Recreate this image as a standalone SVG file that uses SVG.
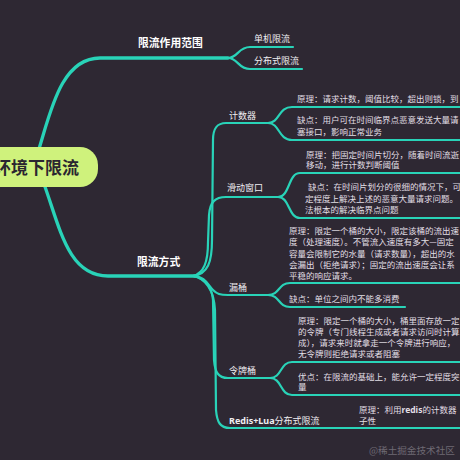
<svg xmlns="http://www.w3.org/2000/svg" width="460" height="460" viewBox="0 0 460 460">
<style>
.c{fill:none;stroke:#29d3b8;stroke-width:2.2;stroke-linecap:round}
.m{stroke-width:3.3}
.h{font-family:"Noto Sans CJK SC","Noto Sans",sans-serif;font-size:10.8px;font-weight:bold;fill:#ffffff}
.s{font-family:"Noto Sans CJK SC","Noto Sans",sans-serif;font-size:9px;fill:#f0eef2}
.l{font-family:"Noto Sans CJK SC","Noto Sans",sans-serif;font-size:8.5px;fill:#e2dfe5}
.b{font-family:"Noto Sans","Noto Sans CJK SC",sans-serif;font-weight:bold}
.w{font-family:"Noto Sans CJK SC","Noto Sans",sans-serif;font-size:9.6px;fill:#6f6a74}
</style>
<rect x="0" y="0" width="460" height="460" fill="#2e2833"/>
<g id="connectors">
<path class="c m" d="M38,152 C50,115 60,58 100,58 L228,58"/>
<path class="c m" d="M44,184 C60,228 68,276 108,276 L195,276"/>
<path class="c" d="M228,58 C238,58 238,47 250,47 L293,47"/>
<path class="c" d="M228,58 C238,58 238,69 250,69 L302,69"/>
<path class="c" d="M193,276 C208,274 212,262 212,240 L213,140 C213,128 217,123 226,123 L268,123"/>
<path class="c" d="M193,276 C204,273 208,262 208,242 L209,215 C210,202 215,197 226,197 L278,197"/>
<path class="c" d="M193,276 C205,276 208,285 213,290 C217,294 220,295 228,295 L268,295"/>
<path class="c" d="M193,276 C204,278 212,286 213,300 L214,360 C215,372 218,378 228,378 L270,378"/>
<path class="c" d="M193,276 C205,278 214,290 215,310 L216,410 C217,422 220,428 230,428 L462,428"/>
<path class="c" d="M268,123 C280,123 278,107 292,107 L462,107"/>
<path class="c" d="M268,123 C280,123 278,140 292,140 L462,140"/>
<path class="c" d="M278,197 C290,197 288,173 300,173 L462,173"/>
<path class="c" d="M278,197 C290,197 288,218 300,218 L462,218"/>
<path class="c" d="M268,295 C280,295 278,283 290,283 L462,283"/>
<path class="c" d="M268,295 C280,295 278,307 290,307 L405,307"/>
<path class="c" d="M270,378 C282,378 280,362 292,362 L462,362"/>
<path class="c" d="M270,378 C282,378 280,395 292,395 L462,395"/>
</g>
<g id="root">
<rect x="-20" y="147" width="118" height="40" rx="18" fill="#cff27c"/>
<text x="79" y="174" text-anchor="end" font-family="Noto Sans CJK SC,sans-serif" font-size="17" font-weight="bold" fill="#2b2630">环境下限流</text>
</g>
<g id="scope"><text class="h" x="138" y="47">限流作用范围</text></g>
<g id="single"><text class="s" x="254" y="41.5">单机限流</text></g>
<g id="distributed"><text class="s" x="254" y="63.5">分布式限流</text></g>
<g id="methods"><text class="h" x="137" y="266">限流方式</text></g>
<g id="counter"><text class="s" x="229" y="118.5">计数器</text></g>
<g id="counter-principle"><text class="l" x="297" y="102">原理：请求计数，阈值比较，超出则锁，到</text></g>
<g id="counter-flaw"><text class="l" x="297" y="123.4">缺点：用户可在时间临界点恶意发送大量请</text><text class="l" x="297" y="135">塞接口，影响正常业务</text></g>
<g id="window"><text class="s" x="227" y="190.5">滑动窗口</text></g>
<g id="window-principle"><text class="l" x="306" y="157.5">原理：把固定时间片切分，随着时间流逝</text><text class="l" x="306" y="168">移动，进行计数判断阈值</text></g>
<g id="window-flaw"><text class="l" x="308" y="190">缺点：在时间片划分的很细的情况下，可</text><text class="l" x="305" y="201.7">定程度上解决上述的恶意大量请求问题。</text><text class="l" x="305" y="212.5">法根本的解决临界点问题</text></g>
<g id="leaky"><text class="s" x="229" y="290.5">漏桶</text></g>
<g id="leaky-principle"><text class="l" x="289" y="233.5">原理：限定一个桶的大小，限定该桶的流出速</text><text class="l" x="289" y="245">度（处理速度）。不管流入速度有多大—固定</text><text class="l" x="289" y="256.5">容量会限制它的水量（请求数量），超出的水</text><text class="l" x="289" y="267.5">会漏出（拒绝请求）；固定的流出速度会让系</text><text class="l" x="289" y="278.5">平稳的响应请求。</text></g>
<g id="leaky-flaw"><text class="l" x="289" y="301.5">缺点：单位之间内不能多消费</text></g>
<g id="token"><text class="s" x="229" y="373.5">令牌桶</text></g>
<g id="token-principle"><text class="l" x="298" y="323.5">原理：限定一个桶的大小，桶里面存放一定</text><text class="l" x="298" y="335">的令牌（专门线程生成或者请求访问时计算</text><text class="l" x="298" y="346">成），请求来时就拿走一个令牌进行响应，</text><text class="l" x="298" y="357">无令牌则拒绝请求或者阻塞</text></g>
<g id="token-merit"><text class="l" x="298" y="379.5">优点：在限流的基础上，能允许一定程度突</text><text class="l" x="298" y="390">量</text></g>
<g id="redis"><text class="s" x="229" y="423.5"><tspan class="b">Redis+Lua</tspan>分布式限流</text></g>
<g id="redis-principle"><text class="l" x="359" y="412.5">原理：利用<tspan class="b">redis</tspan>的计数器</text><text class="l" x="359" y="423.5">子性</text></g>
<text class="w" x="369" y="454">@稀土掘金技术社区</text>
</svg>
